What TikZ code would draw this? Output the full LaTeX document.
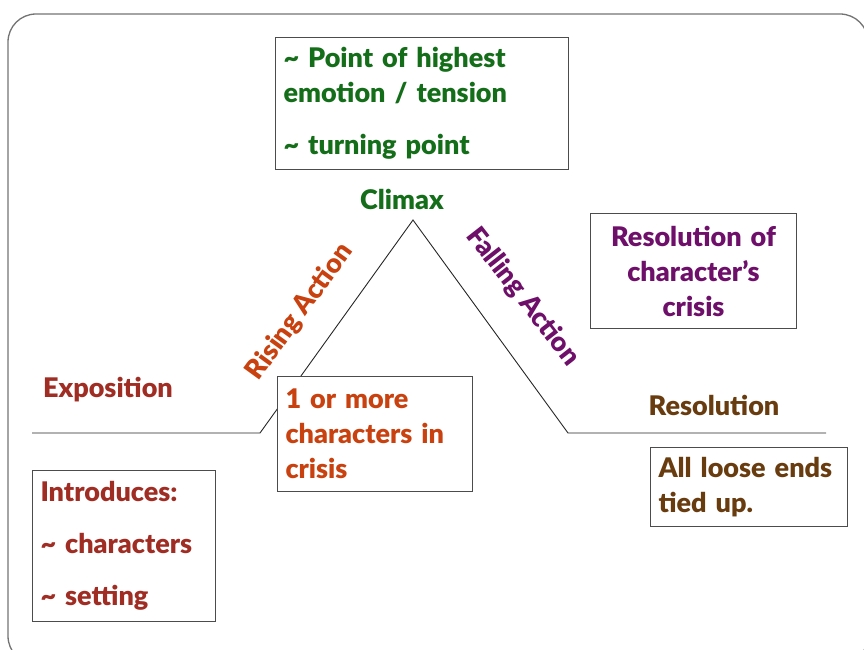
\documentclass[tikz,border=0pt]{standalone}
\usepackage{fontspec}
\setmainfont{Lato}[BoldFont={Lato Black}]
\usetikzlibrary{positioning}

\definecolor{climaxgreen}{RGB}{20,110,25}
\definecolor{risered}{RGB}{200,65,15}
\definecolor{expored}{RGB}{160,45,35}
\definecolor{fallpurple}{RGB}{110,15,105}
\definecolor{resbrown}{RGB}{105,60,15}

\tikzset{
  plotlabel/.style={font=\fontsize{27}{35}\selectfont\bfseries, inner sep=0pt},
  note/.style={plotlabel, draw=black!70, line width=1pt, fill=white,
    anchor=north west, inner xsep=8pt, inner ysep=0pt, align=left},
}

\begin{document}
\begin{tikzpicture}[x=1pt,y=-1pt]
  \useasboundingbox (0,0) rectangle (864,650);
  \draw[black!55, line width=1.3pt, rounded corners=28pt] (8,14) rectangle (868,664);

  \coordinate (start) at (32,433);
  \coordinate (riseB) at (260,433);
  \coordinate (peak) at (413,220);
  \coordinate (fallB) at (568,433);
  \coordinate (end) at (826,433);
  \draw[black!85, line width=0.9pt] (start) -- (riseB) -- (peak) -- (fallB) -- (end);

  \node[plotlabel, text=climaxgreen] (climax) at (402,199) {Climax};
  \node[plotlabel, text=risered, rotate=54] (rising) at (300,312) {Rising Action};
  \node[plotlabel, text=fallpurple, rotate=-52] (falling) at (523,297) {Falling Action};
  \node[plotlabel, text=expored] (expo) at (108,390) {Exposition};
  \node[plotlabel, text=resbrown] (resol) at (714,405) {Resolution};

  \node[note, text=climaxgreen, text width=277pt, minimum height=132pt] (peaknote) at (275,37)
    {\textasciitilde{} Point of highest\\emotion / tension\\[17pt]\textasciitilde{} turning point};
  \node[note, text=expored, text width=167pt, minimum height=151pt] (intro) at (32,470)
    {Introduces:\\[17pt]\textasciitilde{} characters\\[17pt]\textasciitilde{} setting};
  \node[note, text=risered, text width=179pt, minimum height=115pt] (crisis) at (277,376)
    {1 or more\\characters in\\crisis};
  \node[note, text=fallpurple, align=center, text width=190pt, minimum height=115pt] (fixnote) at (590,213)
    {Resolution of\\character’s\\crisis};
  \node[note, text=resbrown, text width=181pt, minimum height=79pt] (loose) at (650,447)
    {All loose ends\\tied up.};
\end{tikzpicture}
\end{document}
